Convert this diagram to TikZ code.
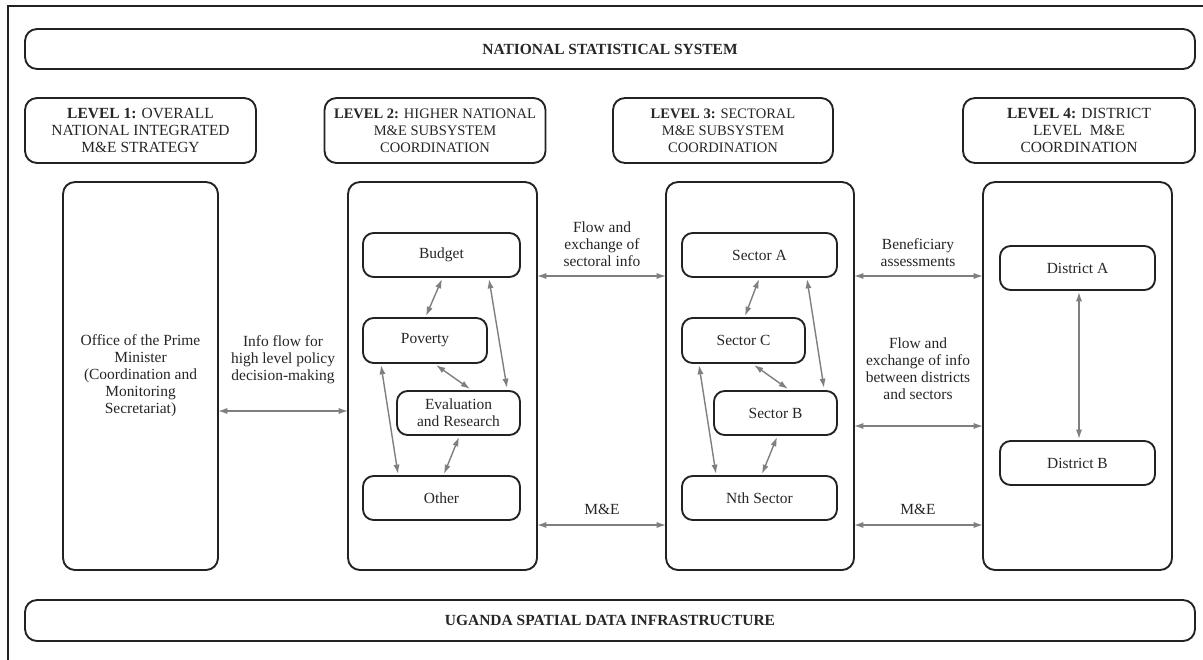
\documentclass[tikz,border=0pt]{standalone}
\usepackage{fontspec}
\setmainfont{Liberation Serif}
\usetikzlibrary{arrows.meta}
\newcommand\txt{\fontsize{11.6}{12.8}\selectfont}
\newcommand\txtnarrow{\fontsize{10.9}{12.8}\selectfont}
\definecolor{edge}{HTML}{222222}
\definecolor{ink}{HTML}{262626}
\definecolor{flowgray}{HTML}{7F7F7F}
\begin{document}
\begin{tikzpicture}[x=0.75pt,y=-0.75pt,
  wh/.style 2 args={minimum width=#1*0.75pt, minimum height=#2*0.75pt},
  box/.style={draw=edge, line width=1.4pt, rounded corners=8pt, inner sep=0pt,
    outer sep=0pt, align=center, font=\txt, text=ink, fill=white},
  bigbox/.style={box, rounded corners=9pt},
  lbl/.style={align=center, font=\txt, text=ink, inner sep=0pt},
  flow/.style={draw=flowgray, line width=1.05pt,
    {Latex[length=7pt,width=4.6pt]}-{Latex[length=7pt,width=4.6pt]}}]
\useasboundingbox (0,0) rectangle (1203,660);
\fill[white] (0,0) rectangle (1203,660);

% outer frame (top and left edges)
\draw[edge, line width=1.9pt] (8,660) -- (8,6) -- (1203,6);

% banners
\node[bigbox, wh={1170}{40}] (nss) at (610,49) {\bfseries NATIONAL STATISTICAL SYSTEM};
\node[bigbox, wh={1170}{41}] (usdi) at (610,620.5) {\bfseries UGANDA SPATIAL DATA INFRASTRUCTURE};

% level headers
\node[bigbox, wh={231}{65}] (h1) at (140.5,130.5)
  {\textbf{LEVEL 1:} OVERALL\\NATIONAL INTEGRATED\\M\&E STRATEGY};
\node[bigbox, wh={221}{65}, font=\txtnarrow] (h2) at (435,130.5)
  {\textbf{LEVEL 2:} HIGHER NATIONAL\\M\&E SUBSYSTEM\\COORDINATION};
\node[bigbox, wh={220}{65}, font=\txtnarrow] (h3) at (723,130.5)
  {\textbf{LEVEL 3:} SECTORAL\\M\&E SUBSYSTEM\\COORDINATION};
\node[bigbox, wh={232}{65}] (h4) at (1079,130.5)
  {\textbf{LEVEL 4:} DISTRICT\\LEVEL\ \ M\&E\\COORDINATION};

% main columns
\node[bigbox, wh={155}{388}] (m1) at (140.5,376)
  {Office of the Prime\\Minister\\(Coordination and\\Monitoring\\Secretariat)};
\node[bigbox, wh={189}{388}] (m2) at (442.5,376) {};
\node[bigbox, wh={188}{388}] (m3) at (760,376) {};
\node[bigbox, wh={189}{388}] (m4) at (1077.5,376) {};

% level 2 subsystems
\node[box, wh={157}{44}] (budget)  at (441.5,255) {Budget};
\node[box, wh={124}{45}] (poverty) at (425,340.5) {Poverty};
\node[box, wh={123}{44}] (evalres) at (458.5,413) {Evaluation\\and Research};
\node[box, wh={157}{44}] (other)   at (441.5,498) {Other};

% level 3 sectors
\node[box, wh={155}{44}] (secA) at (759.5,255) {Sector A};
\node[box, wh={123}{45}] (secC) at (743.5,340.5) {Sector C};
\node[box, wh={123}{44}] (secB) at (775.5,413) {Sector B};
\node[box, wh={155}{44}] (secN) at (759.5,498) {Nth Sector};

% level 4 districts
\node[box, wh={155}{44}] (distA) at (1077.5,268) {District A};
\node[box, wh={155}{44}] (distB) at (1077.5,463) {District B};

% links inside level 2
\draw[flow] ([shift={(0.5,2)}]budget.south) -- ([shift={(1,-2)}]poverty.north);
\draw[flow] ([shift={(47.5,2)}]budget.south) -- ([shift={(48.5,-3)}]evalres.north);
\draw[flow] ([shift={(11,2)}]poverty.south) -- ([shift={(11.5,-2)}]evalres.north);
\draw[flow] ([shift={(-44,2)}]poverty.south) -- ([shift={(-43.5,-2)}]other.north);
\draw[flow] ([shift={(0.5,2)}]evalres.south) -- ([shift={(2.5,-2)}]other.north);

% links inside level 3
\draw[flow] ([shift={(-0.5,2)}]secA.south) -- ([shift={(1.5,-2)}]secC.north);
\draw[flow] ([shift={(47.5,2)}]secA.south) -- ([shift={(48.5,-3)}]secB.north);
\draw[flow] ([shift={(10.5,2)}]secC.south) -- ([shift={(12.5,-2)}]secB.north);
\draw[flow] ([shift={(-44.5,2)}]secC.south) -- ([shift={(-43.5,-2)}]secN.north);
\draw[flow] ([shift={(1.5,2)}]secB.south) -- ([shift={(2.5,-2)}]secN.north);

% link inside level 4
\draw[flow] ([shift={(1.5,2)}]distA.south) -- ([shift={(1.5,-2)}]distB.north);

% rows of the exchanges between columns
\coordinate (rowInfo) at (0,411);
\coordinate (rowTop)  at (0,276);
\coordinate (rowMid)  at (0,426);
\coordinate (rowLow)  at (0,525);

\draw[flow] (m1.east |- rowInfo) -- (m2.west |- rowInfo);
\draw[flow] (m2.east |- rowTop)  -- (m3.west |- rowTop);
\draw[flow] (m2.east |- rowLow)  -- (m3.west |- rowLow);
\draw[flow] (m3.east |- rowTop)  -- (m4.west |- rowTop);
\draw[flow] (m3.east |- rowMid)  -- (m4.west |- rowMid);
\draw[flow] (m3.east |- rowLow)  -- (m4.west |- rowLow);

% exchange labels
\node[lbl] (lInfo) at (283,360) {Info flow for\\high level policy\\decision-making};
\node[lbl] (lSect) at (602,244) {Flow and\\exchange of\\sectoral info};
\node[lbl] (lME2)  at (602,509) {M\&E};
\node[lbl] (lBen)  at (918,253) {Beneficiary\\assessments};
\node[lbl] (lDist) at (918,369) {Flow and\\exchange of info\\between districts\\and sectors};
\node[lbl] (lME3)  at (918,509) {M\&E};
\end{tikzpicture}
\end{document}
